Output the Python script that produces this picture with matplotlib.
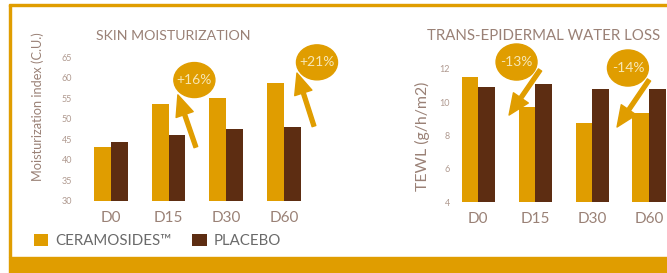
import matplotlib
matplotlib.use("Agg")
import matplotlib.pyplot as plt
from matplotlib.patches import Ellipse, Rectangle, FancyArrowPatch
import numpy as np

# données
days = ["D0", "D15", "D30", "D60"]
moist_ceramosides = [43.2, 53.6, 55.1, 58.8]
moist_placebo = [44.4, 46.1, 47.5, 48.0]
tewl_ceramosides = [11.5, 9.7, 8.75, 9.35]
tewl_placebo = [10.9, 11.1, 10.8, 10.8]
moist_gains = ["+16%", "+21%"]
tewl_gains = ["-13%", "-14%"]

ORANGE = "#E09D00"
BROWN = "#5D2D12"
TITLE_C = "#9A8176"
TICK_C = "#B09A90"
LEG_C = "#6A6A6A"
CREAM = "#F7E7B5"
plt.rcParams["font.family"] = ["Lato", "DejaVu Sans"]
plt.rcParams["font.weight"] = "normal"

W, H = 667, 273
fig = plt.figure(figsize=(W / 100, H / 100), dpi=100)


def fx(x):
    return x / W


def fy(y):
    return 1 - y / H


# cadre orange
fig.patches.append(Rectangle((fx(9), fy(6)), fx(667 - 9), 2 / H, transform=fig.transFigure, color=ORANGE))
fig.patches.append(Rectangle((fx(9), fy(257)), 2 / W, (257 - 5) / H, transform=fig.transFigure, color=ORANGE))
fig.patches.append(Rectangle((fx(9), 0), fx(667 - 9), 16 / H, transform=fig.transFigure, color=ORANGE))


def make_axes(left_px, right_px, bottom_px, top_px):
    ax = fig.add_axes([fx(left_px), fy(bottom_px), (right_px - left_px) / W, (bottom_px - top_px) / H])
    for s in ax.spines.values():
        s.set_visible(False)
    ax.tick_params(axis="both", length=0)
    ax.tick_params(axis="y", labelsize=6.5, colors=TICK_C, pad=2)
    ax.tick_params(axis="x", labelsize=11, labelcolor=TITLE_C, pad=7)
    return ax


def bars(ax, a, b, width=0.29):
    x = np.arange(len(days))
    ba = ax.bar(x - width / 2, a, width, color=ORANGE, label="CERAMOSIDES\u2122")
    bb = ax.bar(x + width / 2, b, width, color=BROWN, label="PLACEBO")
    ax.set_xticks(x)
    ax.set_xticklabels(days)
    return ba, bb


def bubble(ax, txt, center, size, tail, tip):
    ax.add_patch(Ellipse(center, size[0], size[1], color=ORANGE, clip_on=False, zorder=5))
    ax.text(center[0], center[1], txt, ha="center", va="center", color=CREAM, fontsize=10, zorder=6, clip_on=False)
    arr = FancyArrowPatch(tail, tip, arrowstyle="simple,head_length=1.5,head_width=1.3,tail_width=0.28",
                          mutation_scale=10, color=ORANGE, clip_on=False, zorder=5, shrinkA=0, shrinkB=0)
    ax.add_patch(arr)


# graphique 1 : hydratation
ax1 = make_axes(75, 318.6, 201, 57)
ba, bb = bars(ax1, moist_ceramosides, moist_placebo)
ax1.set_xlim(-0.62, 3.6)
ax1.set_ylim(30, 65)
ax1.set_yticks(np.arange(30, 66, 5))
bubble(ax1, moist_gains[0], (1.448, 59.4), (0.711, 8.5), (1.474, 43.1), (1.162, 55.8))
bubble(ax1, moist_gains[1], (3.572, 63.7), (0.711, 8.5), (3.52, 48.2), (3.225, 61.1))
fig.text(fx(173.5), fy(36), "SKIN MOISTURIZATION", ha="center", va="center", fontsize=10.2, color=TITLE_C)
fig.text(fx(38), fy(107), "Moisturization index (C.U.)", rotation=90, ha="center", va="center",
         fontsize=9.2, color=TITLE_C)

# graphique 2 : perte insensible en eau
ax2 = make_axes(453, 683.2, 202, 69)
bars(ax2, tewl_ceramosides, tewl_placebo)
ax2.set_xlim(-0.44, 3.6)
ax2.set_ylim(4, 12)
ax2.set_yticks(np.arange(4, 13, 2))
bubble(ax2, tewl_gains[0], (0.675, 12.42), (0.719, 2.17), (1.088, 11.94), (0.544, 9.23))
bubble(ax2, tewl_gains[1], (2.63, 12.06), (0.719, 2.17), (3.0, 11.34), (2.439, 8.51))
fig.text(fx(543.5), fy(36), "TRANS-EPIDERMAL WATER LOSS", ha="center", va="center", fontsize=10.8, color=TITLE_C)
fig.text(fx(422), fy(136), "TEWL (g/h/m2)", rotation=90, ha="center", va="center", fontsize=11.4, color=TITLE_C)

leg = fig.legend([ba, bb], ["CERAMOSIDES\u2122", "PLACEBO"], loc="center left",
                 bbox_to_anchor=(fx(34), fy(241)), ncol=2, frameon=False, fontsize=10.8,
                 handlelength=0.95, handleheight=0.8, handletextpad=0.45, columnspacing=1.4,
                 borderpad=0, borderaxespad=0)
for t in leg.get_texts():
    t.set_color(LEG_C)

fig.savefig("out.png", dpi=100)
